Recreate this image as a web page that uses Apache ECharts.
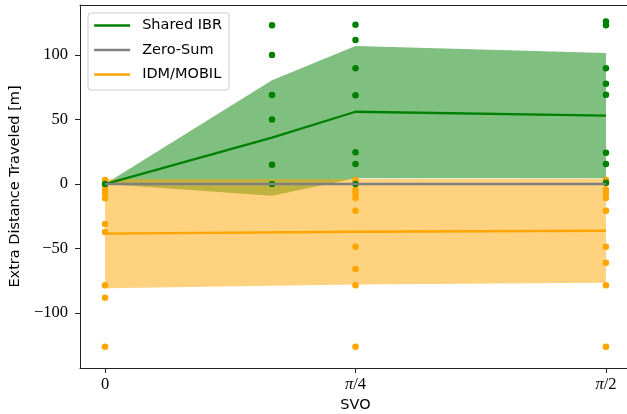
<!DOCTYPE html>
<html><head><meta charset="utf-8">
<script src="https://cdn.jsdelivr.net/npm/echarts@6/dist/echarts.min.js"></script>
<style>html,body{margin:0;padding:0;background:#fff}#c{width:627px;height:414px}</style>
</head><body><div id="c"></div>
<script>
// x positions (SVO, radians)
const svoIBR = [0, Math.PI / 6, Math.PI / 4, Math.PI / 2];
const svoOther = [0, Math.PI / 4, Math.PI / 2];
// Shared IBR: mean and band
const ibrMean = [0, 36, 56, 53];
const ibrLower = [0, -9, 4.5, 4.5];
const ibrUpper = [0, 80.5, 107, 101.5];
// Zero-Sum
const zsMean = [0, 0, 0];
// IDM/MOBIL
const idmMean = [-38.5, -37, -36.2];
const idmLower = [-80.8, -77.8, -76.5];
const idmUpper = [3.8, 3.8, 4.1];
// scatter samples per SVO column
const ibrPts = [
  [0],
  [123, 100, 69, 50, 15, 0],
  [123.5, 111.6, 89.7, 68.8, 24.6, 15.5, 0],
  [126, 123, 89.7, 77.8, 69.2, 24.3, 15.5, 1]
];
const idmPts = [
  [3.1, -0.8, -4.6, -7.2, -11.1, -31, -37.2, -78.5, -88.1, -126.1],
  [3.1, 0.5, -4.6, -7.2, -10.9, -20.7, -48.6, -65.9, -78.5, -126.1],
  [3.1, 0.5, -4.6, -7.2, -10.9, -20.7, -48.6, -61, -78.5, -126.1]
];
// ticks
const xTickValues = [0, Math.PI / 4, Math.PI / 2];
const xTickLabels = ['0', '{i|π}/4', '{i|π}/2'];
const yTickValues = [-100, -50, 0, 50, 100];

const GREEN = '#008000', GRAY = '#808080', ORANGE = '#FFA500';
const SANS = 'DejaVu Sans', SERIF = 'Liberation Serif';
const X_MIN = -0.0785, X_MAX = 1.6493;

function pairs(xs, ys) { return xs.map((x, i) => [x, ys[i]]); }
function cols(xs, pts) { const o = []; xs.forEach((x, i) => pts[i].forEach(v => o.push([x, v]))); return o; }
function band(xs, lo, hi, fill, z) {
  return {
    type: 'custom', coordinateSystem: 'cartesian2d', silent: true, z: z,
    data: [[xs[0], lo[0]]],
    renderItem: function (params, api) {
      const p = [];
      for (let i = 0; i < xs.length; i++) p.push(api.coord([xs[i], hi[i]]));
      for (let i = xs.length - 1; i >= 0; i--) p.push(api.coord([xs[i], lo[i]]));
      return { type: 'polygon', shape: { points: p }, style: { fill: fill } };
    }
  };
}

const chart = echarts.init(document.getElementById('c'), null, { renderer: 'canvas' });
chart.setOption({
  animation: false,
  grid: { left: 80, top: 5, width: 551, height: 363, outerBoundsMode: 'none', containLabel: false, show: false },
  legend: {
    orient: 'vertical', left: 88, top: 13,
    padding: [5, 7, 8, 5], itemGap: 9.5, itemWidth: 36, itemHeight: 16,
    backgroundColor: 'rgba(255,255,255,0.8)', borderColor: '#cccccc', borderWidth: 1, borderRadius: 3,
    itemStyle: { opacity: 0, borderWidth: 0 },
    lineStyle: { width: 2.3 },
    textStyle: { fontFamily: SANS, fontSize: 14.5, color: '#000', padding: [0, 0, 0, 7] },
    data: ['Shared IBR', 'Zero-Sum', 'IDM/MOBIL']
  },
  xAxis: [{
    type: 'value', min: X_MIN, max: X_MAX,
    name: 'SVO', nameLocation: 'middle', nameGap: 27,
    nameTextStyle: { fontFamily: SANS, fontSize: 14.5, color: '#000' },
    axisLine: { show: true, onZero: false, lineStyle: { color: '#222', width: 1 } },
    axisTick: { show: true, length: 5, customValues: xTickValues, lineStyle: { color: '#222' } },
    axisLabel: {
      customValues: xTickValues, margin: 8,
      fontFamily: SERIF, fontSize: 16.5, color: '#000',
      formatter: function (v) {
        let k = 0; xTickValues.forEach((t, i) => { if (Math.abs(t - v) < 1e-6) k = i; });
        return xTickLabels[k];
      },
      rich: { i: { fontFamily: SERIF, fontStyle: 'italic', fontSize: 16.5, color: '#000' } }
    },
    splitLine: { show: false }
  }, {
    type: 'value', position: 'top', min: X_MIN, max: X_MAX,
    axisLine: { show: true, onZero: false, lineStyle: { color: '#222', width: 1 } },
    axisTick: { show: false }, axisLabel: { show: false }, splitLine: { show: false }
  }],
  yAxis: {
    type: 'value', min: -142.6, max: 138.76,
    name: 'Extra Distance Traveled [m]', nameLocation: 'middle', nameGap: 57,
    nameTextStyle: { fontFamily: SANS, fontSize: 14.5, color: '#000' },
    axisLine: { show: true, onZero: false, lineStyle: { color: '#222', width: 1 } },
    axisTick: { show: true, length: 5, customValues: yTickValues, lineStyle: { color: '#222' } },
    axisLabel: {
      customValues: yTickValues, margin: 12,
      fontFamily: SERIF, fontSize: 16.5, color: '#000',
      formatter: v => (v < 0 ? '\u2212' + Math.abs(v) : String(v))
    },
    splitLine: { show: false }
  },
  series: [
    band(svoIBR, ibrLower, ibrUpper, 'rgba(0,128,0,0.5)', 1),
    band(svoOther, idmLower, idmUpper, 'rgba(255,165,0,0.5)', 1),
    { type: 'scatter', name: 'idmPts', data: cols(svoOther, idmPts), symbolSize: 6.5, itemStyle: { color: ORANGE, opacity: 1 }, z: 2, silent: true },
    { type: 'scatter', name: 'ibrPts', data: cols(svoIBR, ibrPts), symbolSize: 6.5, itemStyle: { color: GREEN, opacity: 1 }, z: 3, silent: true },
    { type: 'line', name: 'Shared IBR', data: pairs(svoIBR, ibrMean), symbol: 'none', lineStyle: { color: GREEN, width: 2.3 }, itemStyle: { color: GREEN }, z: 4 },
    { type: 'line', name: 'Zero-Sum', data: pairs(svoOther, zsMean), symbol: 'none', lineStyle: { color: GRAY, width: 2.5 }, itemStyle: { color: GRAY }, z: 4 },
    { type: 'line', name: 'IDM/MOBIL', data: pairs(svoOther, idmMean), symbol: 'none', lineStyle: { color: ORANGE, width: 2.3 }, itemStyle: { color: ORANGE }, z: 4 }
  ]
});
</script></body></html>
